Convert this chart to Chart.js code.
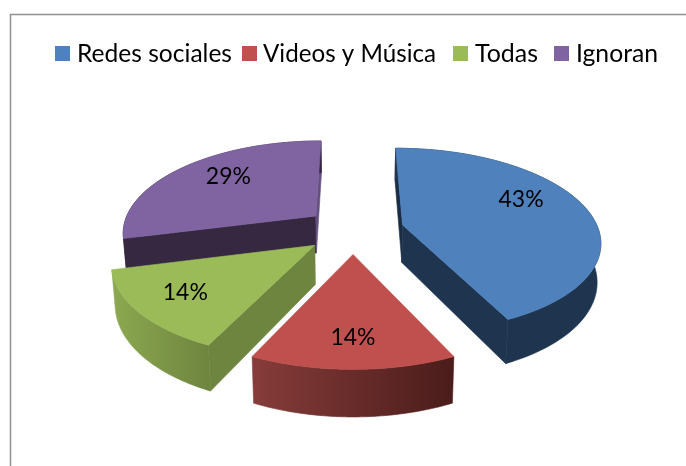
<!DOCTYPE html>
<html>
<head>
<meta charset="utf-8">
<style>html,body{margin:0;padding:0;background:#fff}canvas{display:block}</style>
<script src="https://cdn.jsdelivr.net/npm/chart.js@4"></script>
</head>
<body>
<canvas id="c" width="686" height="466"></canvas>
<script>
const categories = ['Redes sociales', 'Videos y Música', 'Todas', 'Ignoran'];
const shares = [43, 14, 14, 29];
const topColors = ['#4F81BD', '#C0504D', '#9BBB59', '#8064A2'];

// Drawing style per slice: side colours, rim scale, explosion and label anchor in disc units
const sideStyles = [
  {rim: ['#1f344f', '#1f344f'], cutStart: '#1b2d45', cutEnd: '#1f344f', kx: 0.975, ky: 0.97, ex: 0.255, label: [0.636, -0.29]},
  {rim: ['#863c3a', '#4a1c1a'], cutStart: null, cutEnd: null, kx: 0.96, ky: 0.94, ex: 0.24, label: [0, 0.71]},
  {rim: ['#8ca950', '#6e853f'], cutStart: '#6e853f', cutEnd: null, kx: 0.965, ky: 0.95, ex: 0.24, label: [-0.565, 0.44]},
  {rim: ['#352840', '#352840'], cutStart: '#352840', cutEnd: '#64507f', kx: 0.965, ky: 0.98, ex: 0.24, label: [-0.497, -0.484]}
];
const paintOrder = [3, 0, 2, 1];
const legendSlots = [[55, 77, 155], [242, 263, 173], [453, 475, 63], [554, 576, 82]];

// Perspective of the tilted disc
const VP = {x: 353, y: -325}, DEPTH = 555, P = 0.1687, RX = 201, EY = 0.25, H = 38, SHRINK = 0.985;

function project(u, v, lowered) {
  const s = 1 - P * v;
  let x = VP.x + RX * u / s;
  let y = VP.y + DEPTH / s;
  if (lowered) { x = VP.x + (x - VP.x) * SHRINK; y += H / s; }
  return [x, y];
}
function outline(el, st, lowered) {
  const mid = (el.startAngle + el.endAngle) / 2 + Math.PI / 2;
  const ox = st.ex * Math.sin(mid), oy = -EY * Math.cos(mid);
  const pts = [];
  const n = 80;
  for (let i = 0; i <= n; i++) {
    const t = el.startAngle + (el.endAngle - el.startAngle) * i / n + Math.PI / 2;
    pts.push(project(ox + st.kx * Math.sin(t), oy - st.ky * Math.cos(t), lowered));
  }
  return {pts, centre: project(ox, oy, lowered), ox, oy};
}
function polygon(ctx, pts, fill) {
  ctx.beginPath();
  pts.forEach((p, i) => i ? ctx.lineTo(p[0], p[1]) : ctx.moveTo(p[0], p[1]));
  ctx.closePath();
  ctx.fillStyle = fill; ctx.strokeStyle = fill; ctx.lineWidth = 0.6;
  ctx.fill(); ctx.stroke();
}

const pie3d = {
  id: 'pie3d',
  beforeDatasetsDraw(chart) {
    const ctx = chart.ctx, arcs = chart.getDatasetMeta(0).data;
    ctx.save();
    // frame
    ctx.strokeStyle = '#8f8f8f'; ctx.lineWidth = 1.5;
    ctx.beginPath(); ctx.moveTo(10.5, 466); ctx.lineTo(10.5, 14.5); ctx.lineTo(686, 14.5); ctx.stroke();

    paintOrder.forEach(i => {
      const el = arcs[i], st = sideStyles[i];
      const top = outline(el, st, false);
      const low = outline(el, st, true);
      if (st.cutStart) polygon(ctx, [top.centre, top.pts[0], low.pts[0], low.centre], st.cutStart);
      if (st.cutEnd) polygon(ctx, [top.centre, top.pts[top.pts.length - 1], low.pts[low.pts.length - 1], low.centre], st.cutEnd);
      const xs = top.pts.map(p => p[0]);
      const g = ctx.createLinearGradient(Math.min(...xs), 0, Math.max(...xs), 0);
      g.addColorStop(0, st.rim[0]); g.addColorStop(1, st.rim[1]);
      polygon(ctx, top.pts.concat(low.pts.slice().reverse()), g);
      polygon(ctx, [top.centre].concat(top.pts), topColors[i]);
    });

    // percentage labels
    ctx.fillStyle = '#000'; ctx.font = '23px Lato'; ctx.textAlign = 'center'; ctx.textBaseline = 'middle';
    paintOrder.forEach(i => {
      const el = arcs[i], st = sideStyles[i];
      const o = outline(el, st, false);
      const p = project(o.ox + st.label[0], o.oy + st.label[1], false);
      ctx.fillText(shares[i] + '%', p[0], p[1]);
    });

    // legend
    ctx.textAlign = 'left'; ctx.font = '25px Lato';
    categories.forEach((name, i) => {
      const s = legendSlots[i];
      ctx.fillStyle = topColors[i]; ctx.fillRect(s[0], 46, 15, 15);
      ctx.fillStyle = '#000'; ctx.fillText(name, s[1], 54, s[2]);
    });
    ctx.restore();
    return false;
  }
};

new Chart(document.getElementById('c'), {
  type: 'pie',
  data: {labels: categories, datasets: [{data: shares, backgroundColor: topColors, borderWidth: 0}]},
  options: {
    responsive: false, animation: false,
    plugins: {legend: {display: false}, tooltip: {enabled: false}}
  },
  plugins: [pie3d]
});
</script>
</body>
</html>
